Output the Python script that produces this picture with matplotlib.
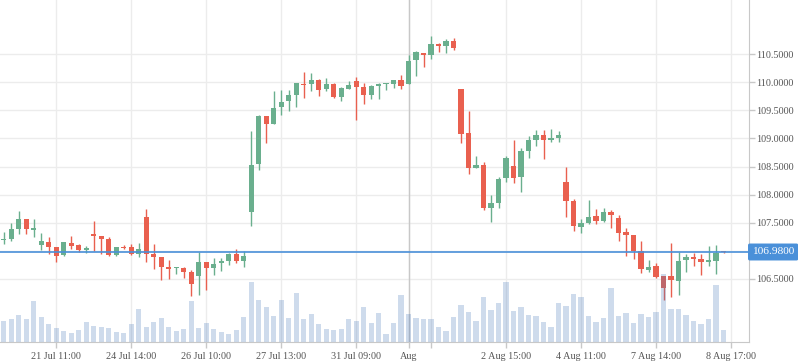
import matplotlib
matplotlib.use('Agg')
import matplotlib.pyplot as plt
import numpy as np

# OHLC candles, one per bar
opens = [107.20, 107.21, 107.39, 107.57, 107.38, 107.11, 107.16, 107.07, 106.93, 107.14,
         107.10, 107.02, 107.30, 107.26, 107.21, 106.93, 107.07, 107.07, 106.94, 107.60,
         106.94, 106.89, 106.71, 106.69, 106.70, 106.62, 106.55, 106.80, 106.70, 106.78,
         106.82, 106.94, 106.82, 107.70, 108.55, 109.40, 109.26, 109.55, 109.66, 109.78,
         109.97, 109.97, 110.04, 109.88, 109.97, 109.74, 109.88, 110.02, 109.91, 109.77,
         109.94, 109.97, 109.97, 110.04, 109.97, 110.39, 110.52, 110.49, 110.68, 110.64,
         110.73, 109.88, 109.10, 108.47, 108.53, 107.76, 107.85, 108.30, 108.51, 108.31,
         108.78, 108.97, 109.06, 108.97, 109.01, 108.22, 107.89, 107.42, 107.50, 107.62,
         107.53, 107.69, 107.58, 107.34, 107.28, 107.00, 106.66, 106.73, 106.55, 106.55,
         106.46, 106.84, 106.89, 106.86, 106.80, 106.82, 106.99]
highs = [107.33, 107.50, 107.71, 107.57, 107.57, 107.32, 107.25, 107.07, 107.16, 107.26,
         107.12, 107.09, 107.53, 107.27, 107.25, 107.07, 107.10, 107.12, 107.14, 107.74,
         107.12, 106.90, 106.84, 106.71, 106.71, 106.66, 106.98, 106.80, 106.87, 106.87,
         106.96, 107.03, 107.00, 109.14, 109.42, 109.40, 109.84, 109.86, 109.86, 109.99,
         110.18, 110.16, 110.06, 110.07, 109.98, 109.91, 110.02, 110.09, 109.98, 109.95,
         109.98, 109.99, 110.04, 110.13, 110.48, 110.55, 110.52, 110.82, 110.69, 110.77,
         110.78, 109.88, 109.49, 108.69, 108.58, 107.99, 108.31, 108.69, 108.97, 108.83,
         109.04, 109.15, 109.15, 109.17, 109.13, 108.49, 107.92, 107.57, 107.90, 107.74,
         107.76, 107.73, 107.64, 107.41, 107.29, 107.18, 106.84, 106.78, 106.56, 107.14,
         106.98, 106.94, 106.96, 106.94, 107.09, 107.10, 107.00]
lows = [107.12, 107.18, 107.30, 107.30, 107.25, 107.01, 106.94, 106.80, 106.91, 107.03,
        106.98, 106.96, 107.00, 106.94, 106.91, 106.91, 107.03, 106.93, 106.89, 106.80,
        106.68, 106.48, 106.50, 106.59, 106.52, 106.20, 106.22, 106.30, 106.57, 106.64,
        106.75, 106.78, 106.71, 107.45, 108.44, 108.92, 109.26, 109.42, 109.49, 109.55,
        109.71, 109.84, 109.75, 109.84, 109.72, 109.66, 109.87, 109.33, 109.62, 109.70,
        109.70, 109.86, 109.90, 109.88, 109.96, 110.11, 110.27, 110.42, 110.54, 110.52,
        110.57, 108.92, 108.37, 108.47, 107.73, 107.51, 107.76, 108.22, 108.21, 108.05,
        108.65, 108.86, 108.63, 108.94, 108.94, 107.61, 107.36, 107.32, 107.48, 107.48,
        107.51, 107.41, 107.18, 106.91, 106.86, 106.61, 106.62, 106.52, 106.13, 106.18,
        106.22, 106.62, 106.73, 106.57, 106.73, 106.59, 106.97]
closes = [107.22, 107.39, 107.57, 107.39, 107.40, 107.18, 107.07, 106.91, 107.16, 107.09,
          107.02, 107.05, 107.26, 107.21, 106.93, 107.07, 107.05, 106.94, 107.03, 106.94,
          106.89, 106.71, 106.68, 106.70, 106.62, 106.41, 106.80, 106.70, 106.77, 106.82,
          106.94, 106.82, 106.91, 108.53, 109.40, 109.26, 109.54, 109.65, 109.77, 109.98,
          109.95, 110.04, 109.86, 109.97, 109.74, 109.90, 109.95, 109.91, 109.78, 109.93,
          109.95, 109.98, 110.04, 109.93, 110.38, 110.54, 110.49, 110.68, 110.64, 110.73,
          110.61, 109.08, 108.47, 108.53, 107.76, 107.85, 108.28, 108.65, 108.30, 108.78,
          108.97, 109.06, 108.97, 109.01, 109.06, 107.89, 107.44, 107.50, 107.60, 107.53,
          107.69, 107.64, 107.32, 107.28, 107.00, 106.68, 106.71, 106.54, 106.34, 106.48,
          106.82, 106.89, 106.86, 106.80, 106.84, 106.96, 106.98]
volumes = [21, 23, 27, 23, 41, 25, 18, 14, 11, 9,
           12, 20, 16, 15, 14, 10, 9, 18, 33, 15,
           20, 24, 15, 11, 13, 41, 14, 19, 13, 10,
           8, 12, 25, 60, 42, 35, 26, 42, 24, 49,
           23, 28, 18, 13, 12, 13, 23, 21, 35, 19,
           29, 8, 19, 47, 28, 24, 23, 23, 15, 11,
           25, 37, 30, 21, 45, 32, 39, 60, 31, 35,
           27, 26, 20, 15, 39, 36, 48, 45, 26, 20,
           24, 54, 26, 29, 19, 28, 25, 30, 68, 33,
           33, 27, 21, 18, 23, 57, 12]

tick_idx = [7, 17, 27, 37, 47, 54, 57, 67, 77, 87, 97]
tick_labels = ['21 Jul 11:00', '24 Jul 14:00', '26 Jul 10:00', '27 Jul 13:00', '31 Jul 09:00',
               'Aug', '', '2 Aug 15:00', '4 Aug 11:00', '7 Aug 14:00', '8 Aug 17:00']
price_ticks = [106.5, 107.0, 107.5, 108.0, 108.5, 109.0, 109.5, 110.0, 110.5]
last_price = 106.98
month_idx = 54

GREEN = '#6aaf8e'
RED = '#e9604f'
GRID = '#ececec'
AXIS = '#c8c8c8'
BLUE = '#4a90d9'

plt.rcParams['font.family'] = ['Liberation Serif', 'DejaVu Serif']

fig = plt.figure(figsize=(7.98, 3.63), dpi=100)
ax = fig.add_axes([0, 21 / 363, 749 / 798, 342 / 363])
# volume lives on its own scale, drawn over the candles
vax = ax.twinx()

x = np.arange(len(opens))
o = np.array(opens)
c = np.array(closes)
h = np.array(highs)
l = np.array(lows)
up = c >= o
colors = np.where(up, GREEN, RED)

ax.vlines(x, l, h, colors=colors, linewidth=1.0, zorder=3)
body_lo = np.minimum(o, c)
body_h = np.maximum(np.abs(c - o), 0.02)
ax.bar(x, body_h, bottom=body_lo, width=0.67, color=colors, linewidth=0, zorder=3)

ax.set_xlim(-0.47, 99.4)
ax.set_ylim(105.38, 111.46)

ax.set_xticks(tick_idx)
ax.set_xticklabels(tick_labels)
ax.set_yticks(price_ticks)
ax.set_yticklabels(['' if abs(p - 107.0) < 1e-6 else f'{p:.4f}' for p in price_ticks])
ax.yaxis.tick_right()
ax.grid(True, color=GRID, linewidth=1.0, zorder=0)
ax.set_axisbelow(True)
ax.axvline(month_idx, color='#c8c8c8', linewidth=1.0, zorder=1)
ax.axhline(last_price, color=BLUE, linewidth=1.2, zorder=4)

for side in ['top', 'left']:
    ax.spines[side].set_visible(False)
for side in ['bottom', 'right']:
    ax.spines[side].set_color(AXIS)
ax.tick_params(axis='both', colors=AXIS, labelcolor='#555555', labelsize=7.3, length=4, width=1)
ax.tick_params(axis='x', pad=3)
ax.tick_params(axis='y', pad=1)

vax.bar(x, volumes, width=0.67, color='#4a7abc', alpha=0.27, linewidth=0, zorder=5)
vax.set_ylim(0, 342)
vax.set_yticks([])
for s in vax.spines.values():
    s.set_visible(False)

vax.text(1.004, last_price, f'{last_price:.4f}', transform=ax.get_yaxis_transform(),
         ha='left', va='center', color='white', fontsize=8.2, zorder=10, clip_on=False,
         bbox=dict(boxstyle='round,pad=0.35,rounding_size=0.15', fc=BLUE, ec='none'))

fig.savefig('out.png', dpi=100)
